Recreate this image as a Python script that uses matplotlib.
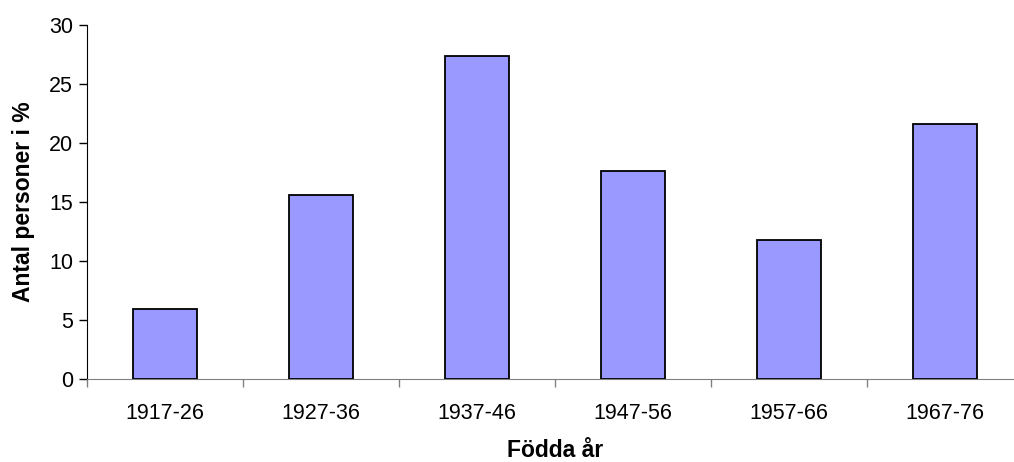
import matplotlib.pyplot as plt
import numpy as np

plt.rcParams['font.family'] = ['Liberation Sans', 'DejaVu Sans']

categories = ["1917-26", "1927-36", "1937-46", "1947-56", "1957-66", "1967-76"]
values = [5.9, 15.6, 27.4, 17.6, 11.8, 21.6]

fig = plt.figure(figsize=(10.14, 4.62), dpi=100)
ax = fig.add_axes([87 / 1014, 83 / 462, 936 / 1014, 354 / 462])

x = np.arange(len(categories))
ax.bar(x, values, width=0.413, color='#9999ff', edgecolor='black', linewidth=1.3, zorder=3)

ax.set_xlim(-0.5, len(categories) - 0.5)
ax.set_ylim(0, 30)
ax.set_yticks(range(0, 31, 5))
ax.tick_params(axis='y', direction='out', length=6, width=1, labelsize=15.5, pad=4, colors='black')

# category boundaries get the tick marks, labels sit at the centres
ax.set_xticks(np.arange(len(categories) + 1) - 0.5)
ax.set_xticklabels([])
ax.tick_params(axis='x', which='major', direction='out', length=6, width=1, color='#808080')
ax.set_xticks(x, minor=True)
ax.set_xticklabels(categories, minor=True)
ax.tick_params(axis='x', which='minor', length=0, labelsize=15.5, pad=17)

for s in ['top', 'right']:
    ax.spines[s].set_visible(False)
ax.spines['bottom'].set_color('#808080')
ax.spines['left'].set_color('black')

ax.set_ylabel("Antal personer i %", fontsize=16.5, fontweight='bold', labelpad=10)
ax.set_xlabel("Födda år", fontsize=16.5, fontweight='bold', labelpad=11)

fig.savefig("out.png", dpi=100)
